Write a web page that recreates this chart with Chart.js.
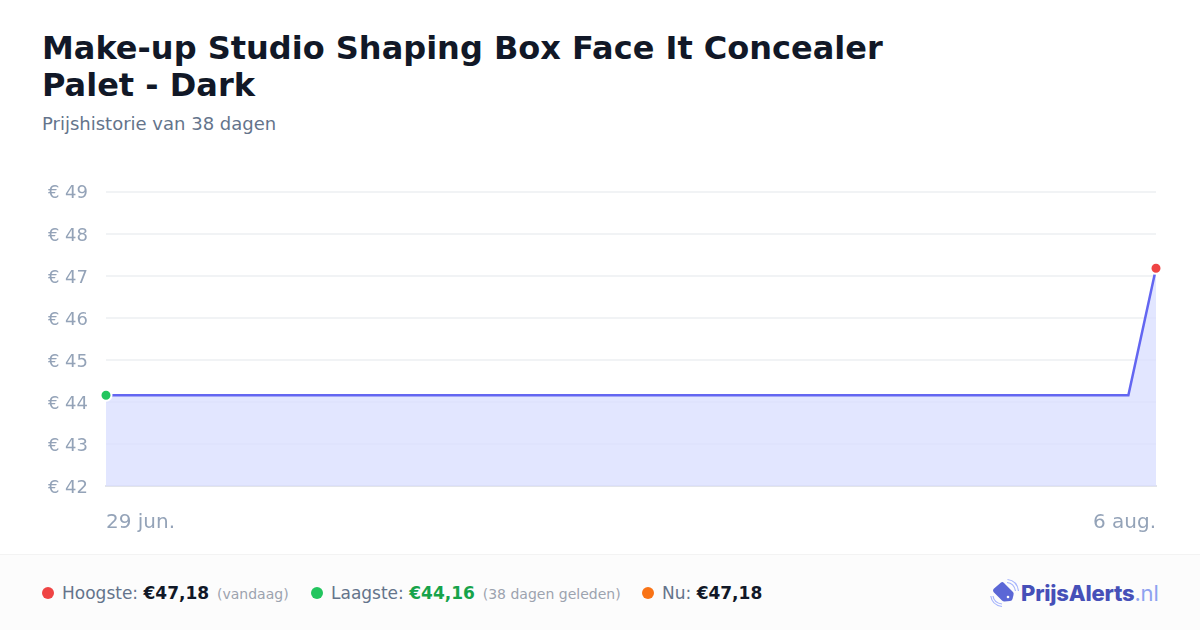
<!DOCTYPE html>
<html lang="nl">
<head>
<meta charset="utf-8">
<title>Prijshistorie</title>
<script src="https://cdn.jsdelivr.net/npm/chart.js@4"></script>
<style>
  * { margin: 0; padding: 0; box-sizing: border-box; }
  body { width: 1200px; height: 630px; background: #fff; font-family: "DejaVu Sans", sans-serif; overflow: hidden; position: relative; }
  h1 { position: absolute; left: 42px; top: 30px; width: 900px; font-size: 32px; line-height: 37px; font-weight: 700; color: #111827; }
  .sub { position: absolute; left: 42px; top: 113px; font-size: 18px; line-height: 22px; color: #64748b; }
  #wrap { position: absolute; left: 0; top: 163px; width: 1200px; height: 403px; }
  canvas { display: block; }
  footer { position: absolute; left: 0; top: 554px; width: 1200px; height: 76px; background: #fcfcfc; border-top: 1px solid #f3f3f3; }
  .stat { position: absolute; top: 0; height: 76px; line-height: 76px; font-size: 17px; color: #64748b; white-space: nowrap; }
  .dot { position: absolute; top: 32px; width: 12px; height: 12px; border-radius: 50%; }
  .stat b { color: #111827; font-weight: 700; }
  .stat b.low { color: #16a34a; }
  .stat small { font-size: 14px; color: #9ca3af; margin-left: 2.5px; }
  .logo { position: absolute; left: 990px; top: 23px; width: 30px; height: 30px; }
  .brand { position: absolute; left: 1021px; top: 0; height: 76px; line-height: 76px; font-family: Inter, sans-serif; font-size: 22px; font-weight: 800; letter-spacing: -0.2px; color: #4650b8; white-space: nowrap; }
  .brand span { font-weight: 400; color: #8ea2f0; }
</style>
</head>
<body>
<h1>Make-up Studio Shaping Box Face It Concealer Palet - Dark</h1>
<div class="sub">Prijshistorie van 38 dagen</div>
<div id="wrap"><canvas id="chartPrijs" width="1200" height="403"></canvas></div>
<footer>
  <span class="dot" style="left:42px;background:#ef4444"></span>
  <div class="stat" style="left:62px">Hoogste: <b>€47,18</b> <small>(vandaag)</small></div>
  <span class="dot" style="left:311px;background:#22c55e"></span>
  <div class="stat" style="left:331px">Laagste: <b class="low">€44,16</b> <small>(38 dagen geleden)</small></div>
  <span class="dot" style="left:642px;background:#f97316"></span>
  <div class="stat" style="left:662px">Nu: <b>€47,18</b></div>
  <svg class="logo" viewBox="0 0 30 30" fill="none">
    <path d="M3.500 11 L11 4.500 Q12.500 3.500 14 5 L23 14 Q24 15 23.500 17 L22.500 21 Q22 23 20 23 L14.500 23.500 Q13 23.500 12 22.500 L3.500 14 Q2.500 12.500 3.500 11 Z" fill="#5b67d6"/>
    <circle cx="18" cy="19" r="1.300" fill="#fff"/>
    <path d="M17 4.500 Q24 5 25.500 13 M17.500 1.500 Q27 2.500 28.500 13" stroke="#a5b4fc" stroke-width="1.200"/>
    <path d="M3 18 Q4 25 12 26 M0.800 18 Q2 27 12 28.500" stroke="#a5b4fc" stroke-width="1.200"/>
  </svg>
  <div class="brand">PrijsAlerts<span>.nl</span></div>
</footer>
<script>
const labels = ['29 jun.','30 jun.','1 jul.','2 jul.','3 jul.','4 jul.','5 jul.','6 jul.','7 jul.','8 jul.','9 jul.','10 jul.','11 jul.','12 jul.','13 jul.','14 jul.','15 jul.','16 jul.','17 jul.','18 jul.','19 jul.','20 jul.','21 jul.','22 jul.','23 jul.','24 jul.','25 jul.','26 jul.','27 jul.','28 jul.','29 jul.','30 jul.','31 jul.','1 aug.','2 aug.','3 aug.','4 aug.','5 aug.','6 aug.']
const prijzen = [44.16,44.16,44.16,44.16,44.16,44.16,44.16,44.16,44.16,44.16,44.16,44.16,44.16,44.16,44.16,44.16,44.16,44.16,44.16,44.16,44.16,44.16,44.16,44.16,44.16,44.16,44.16,44.16,44.16,44.16,44.16,44.16,44.16,44.16,44.16,44.16,44.16,44.16,47.18]
const yMin = 42
const yMax = 49

const laatste = prijzen.length - 1
const context = document.getElementById('chartPrijs').getContext('2d')

// alleen eerste en laatste punt tonen
const puntKleur = ctx => ctx.dataIndex === 0 ? '#22c55e' : ctx.dataIndex === laatste ? '#ef4444' : 'transparent'
const puntRand = ctx => ctx.dataIndex === 0 || ctx.dataIndex === laatste ? '#ffffff' : 'transparent'
const puntGrootte = ctx => ctx.dataIndex === 0 || ctx.dataIndex === laatste ? 5.5 : 0

new Chart(context, {
    type: 'line',
    data: {
        labels: labels,
        datasets: [{
            label: 'Prijs',
            data: prijzen,
            borderColor: '#6366f1',
            borderWidth: 2.5,
            backgroundColor: 'rgba(216,222,255,0.75)',
            fill: 'start',
            tension: 0,
            clip: false,
            pointRadius: puntGrootte,
            pointBackgroundColor: puntKleur,
            pointBorderColor: puntRand,
            pointBorderWidth: 2
        }]
    },
    options: {
        responsive: false,
        animation: false,
        layout: { padding: { left: 0, right: 44, top: 15, bottom: 14 } },
        plugins: { legend: { display: false }, tooltip: { enabled: false } },
        scales: {
            x: {
                grid: { display: false },
                border: { color: '#e2e4ea', width: 2 },
                ticks: {
                    autoSkip: false,
                    maxRotation: 0,
                    align: 'inner',
                    padding: 17,
                    color: '#94a3b8',
                    font: { family: 'DejaVu Sans', size: 20 },
                    callback: (v, i) => i === 0 || i === laatste ? labels[i] : ''
                }
            },
            y: {
                min: yMin,
                max: yMax,
                afterFit: s => { s.width = 106 },
                grid: { color: '#f1f3f5', lineWidth: 2, drawTicks: false },
                border: { display: false },
                ticks: {
                    stepSize: 1,
                    padding: 18,
                    labelOffset: 2,
                    color: '#94a3b8',
                    font: { family: 'DejaVu Sans', size: 18 },
                    callback: v => '€ ' + v
                }
            }
        }
    }
})
</script>
</body>
</html>
